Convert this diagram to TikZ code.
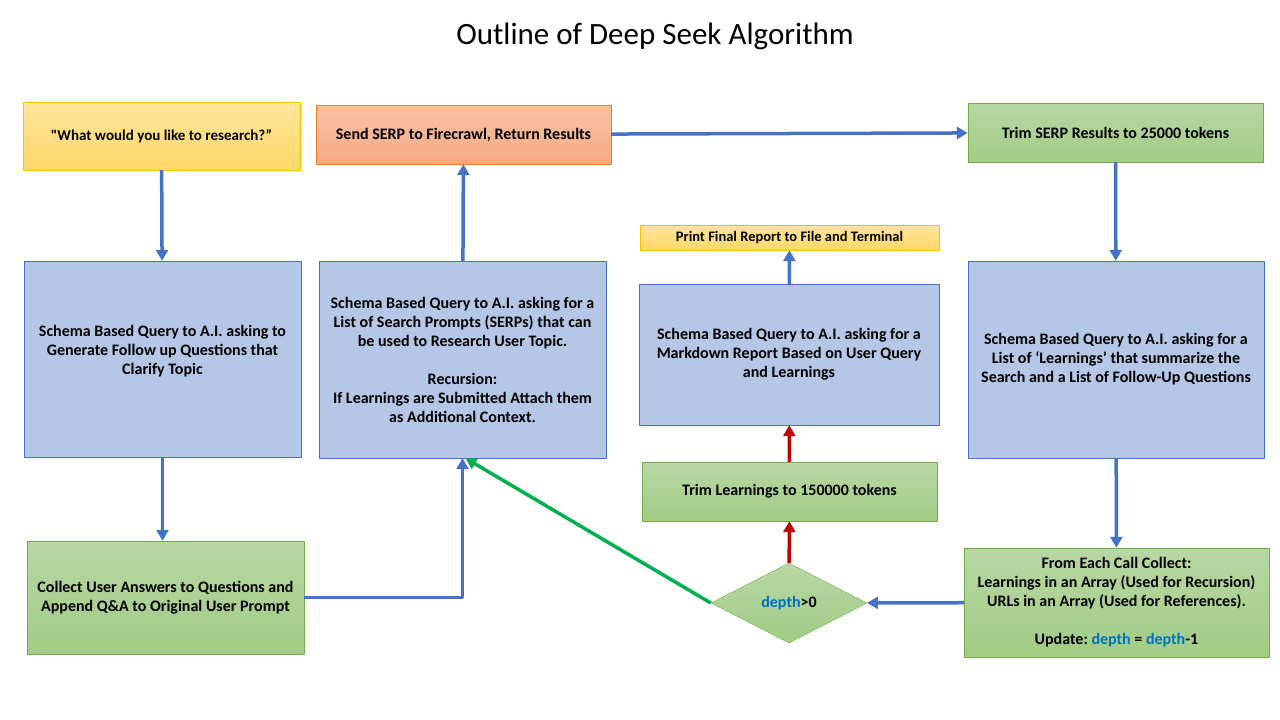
\documentclass[tikz,border=0pt]{standalone}
\usepackage{fontspec}
\setmainfont{Carlito}[Ligatures=TeXOff]
\usetikzlibrary{arrows.meta,shapes.geometric}
\definecolor{offblue}{HTML}{4472C4}
\definecolor{boxblue}{HTML}{B4C7E7}
\definecolor{offgreen}{HTML}{70AD47}
\definecolor{offyellow}{HTML}{FFC000}
\definecolor{offorange}{HTML}{ED7D31}
\definecolor{linered}{HTML}{C00000}
\definecolor{linegreen}{HTML}{00B050}
\definecolor{depthblue}{HTML}{0070C0}
\newcommand{\depth}{\textcolor{depthblue}{depth}}
\frenchspacing
\begin{document}
\begin{tikzpicture}[x=1pt,y=-1pt,line join=round,
  box/.style={draw,rectangle,inner sep=2pt,align=center,
    font=\fontsize{16}{19}\selectfont\bfseries},
  bluebox/.style={box,draw=offblue,fill=boxblue},
  greenbox/.style={box,draw=offgreen,
    top color={rgb,255:red,183;green,215;blue,164},bottom color={rgb,255:red,162;green,204;blue,133}},
  yellowbox/.style={box,draw=offyellow,top color={rgb,255:red,255;green,229;blue,157},
    bottom color={rgb,255:red,255;green,215;blue,104}},
  orangebox/.style={box,draw=offorange,top color={rgb,255:red,248;green,194;blue,164},
    bottom color={rgb,255:red,244;green,170;blue,132}},
  blueline/.style={draw=offblue,line width=3.5pt,-{Triangle[width=12pt,length=11pt]}},
  redline/.style={draw=linered,line width=3.5pt,-{Triangle[width=12pt,length=11pt]}},
  greenline/.style={draw=linegreen,line width=3.5pt,-{Triangle[width=12pt,length=11pt]}}]
  \useasboundingbox (0,0) rectangle (1280,720);

  \node[font=\fontsize{31}{37}\selectfont] (title) at (655,36) {Outline of Deep Seek Algorithm};

  \node[yellowbox,font=\fontsize{15}{18}\selectfont\bfseries,minimum width=277,minimum height=68] (ask) at (161.5,136)
    {"What would you like to research?”};
  \node[orangebox,minimum width=295,minimum height=59] (serp) at (463.5,134.5) {Send SERP to Firecrawl, Return Results};
  \node[greenbox,minimum width=295,minimum height=59] (trimserp) at (1115.5,132.5) {Trim SERP Results to 25000 tokens};

  \node[bluebox,minimum width=277,minimum height=196] (gen) at (162.5,359)
    {Schema Based Query to A.I. asking to\\Generate Follow up Questions that\\Clarify Topic\\ \mbox{}};
  \node[bluebox,minimum width=287,minimum height=197] (list) at (462.5,359.5)
    {Schema Based Query to A.I. asking for a\\List of Search Prompts (SERPs) that can\\be used to Research User Topic.\\[19pt]
     Recursion:\\If Learnings are Submitted Attach them\\as Additional Context.};
  \node[yellowbox,font=\fontsize{14.5}{17}\selectfont\bfseries,minimum width=299,minimum height=25] (print) at (789.5,237.5)
    {Print Final Report to File and Terminal};
  \node[bluebox,minimum width=300,minimum height=141] (report) at (789,354.5)
    {Schema Based Query to A.I. asking for a\\Markdown Report Based on User Query\\and Learnings};
  \node[bluebox,minimum width=296,minimum height=197] (learn) at (1116,359.5)
    {Schema Based Query to A.I. asking for a\\List of ‘Learnings’ that summarize the\\Search and a List of Follow-Up Questions};

  \node[greenbox,minimum width=295,minimum height=59] (trimlearn) at (789.5,491.5) {Trim Learnings to 150000 tokens};
  \node[greenbox,minimum width=277,minimum height=113] (collect) at (165.5,597.5)
    {Collect User Answers to Questions and\\Append Q\&A to Original User Prompt};
  \node[greenbox,diamond,inner sep=0pt,aspect=1.95,minimum width=156,minimum height=80] (dec) at (789,603)
    {\depth>0};
  \node[greenbox,minimum width=305,minimum height=109] (each) at (1116.5,602.5)
    {From Each Call Collect:\\Learnings in an Array (Used for Recursion)\\URLs in an Array (Used for References).\\[19pt]
     Update: \depth{} = \depth-1};

  \draw[blueline] (ask) -- (gen);
  \draw[blueline] (gen) -- (collect.north -| gen.south);
  \draw[blueline] (collect.east) -| (list.south);
  \draw[blueline] (list) -- (serp);
  \draw[blueline] (serp) -- (trimserp);
  \draw[blueline] (trimserp) -- (learn);
  \draw[blueline] (learn) -- (each);
  \draw[blueline] (each) -- (dec);
  \draw[redline] (dec) -- (trimlearn);
  \draw[redline] (trimlearn) -- (report);
  \draw[blueline] (report) -- (print);
  \draw[greenline] (dec.west) -- ([xshift=3]list.south);
\end{tikzpicture}
\end{document}
